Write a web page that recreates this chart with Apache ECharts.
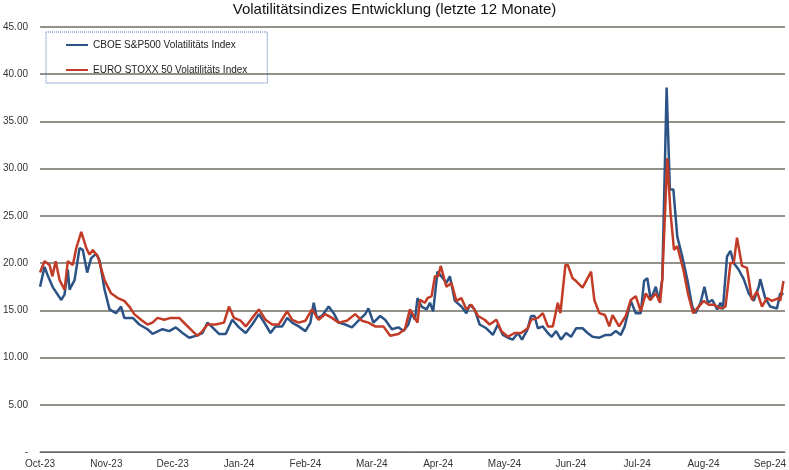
<!DOCTYPE html>
<html><head><meta charset="utf-8">
<script src="https://cdn.jsdelivr.net/npm/echarts@6/dist/echarts.min.js"></script>
<style>html,body{margin:0;padding:0;background:#fff}#c{width:789px;height:470px}</style>
</head><body><div id="c"></div>
<script>
const monthLabels = ["Oct-23","Nov-23","Dec-23","Jan-24","Feb-24","Mar-24","Apr-24","May-24","Jun-24","Jul-24","Aug-24","Sep-24"];
const vixDays = [0,2.1,3.7,6,9.8,11.3,12.8,13.6,15.9,18.2,19.7,21.7,23.5,25.8,27.4,29.7,32,35,37.3,38.8,42.7,45.7,49.5,51.8,56.4,59.5,62.5,65.6,68.7,71.7,74.8,77.1,79.4,82.4,85.5,88.5,91.6,94.7,97.7,100.8,103.8,106.1,108.4,111.5,113.8,116.1,119.1,122.2,124.5,126,127.5,129.8,132.9,135.2,137.5,140.5,143.6,146.6,149.7,151.2,153.5,156.6,158.9,162,165,167.3,169.6,171.1,172.6,173.8,175.7,178,179.5,181,183,184.8,187.1,188.7,191,194,196.3,197.9,200.1,202.4,205.5,208.5,210.8,213.1,215.4,217.7,220,221.9,224.3,226.1,227.7,229.2,231.5,233.8,235.6,237.6,239.9,242.2,244.5,246.8,249.8,252.1,254.4,257.5,260.5,262.8,265.1,267.4,269.2,272,274.3,276.6,278.1,279.6,281.2,283.5,285,286.5,288.5,290,291.6,293.4,295.7,298,300.3,301.8,304.1,305.9,307.5,309.5,311.8,313.3,314.4,316.3,317.9,319.4,321.7,324,326.3,328.6,330.9,331.6,333.9,336.2,339.3,340.8,342.3];
const vixVals = [17.5,19.6,18.6,17.4,16.1,16.7,19.3,17.2,18.2,21.6,21.4,19,20.5,21,20.3,17.2,15.1,14.7,15.4,14.2,14.2,13.5,13,12.5,13,12.8,13.2,12.6,12.1,12.3,12.6,13.7,13.2,12.5,12.5,14,13.2,12.6,13.5,14.6,13.5,12.6,13.3,13.3,14.2,13.7,13.3,12.8,13.7,15.8,14.2,14.4,15.4,14.7,13.7,13.5,13.2,13.9,14.6,15.2,13.7,14.4,14,13,13.2,12.8,13.5,14.7,14,16.3,15.4,15.1,15.8,14.9,19.1,18.6,17.9,18.6,16,15.4,14.7,15.6,15.1,13.5,13.1,12.4,13.5,12.4,12.1,11.9,12.6,11.9,12.9,14.4,14.4,13.1,13.3,12.6,12.2,12.8,11.9,12.6,12.2,13.1,13.1,12.6,12.2,12.1,12.4,12.4,12.8,12.4,13.3,16,14.7,14.7,18.1,18.4,16.1,17.5,16,18.3,38.6,27.8,27.8,22.8,20.7,18.3,15.4,14.7,15.8,17.5,15.8,16.1,15.1,15.8,15.1,20.7,21.3,20,19.3,18.3,16.8,16,17.5,18.3,16.3,15.4,15.2,16.8,16.7];
const vstoxxDays = [0,2.1,4.4,5.7,7.2,9,11.3,12.8,15.1,16.7,19,21.3,22.8,24.3,26.6,29.7,32.7,35.8,38.8,41.1,43.4,46.5,49.5,51.8,54.1,57.2,60.2,64.1,67.1,70.2,72.5,74.8,77.1,80.9,84.7,87,89.3,92.4,94.7,97.7,100.8,103.8,106.9,109.9,113.8,116.1,119.1,122.2,125.2,128.3,131.3,134.4,137.5,141.3,145.1,148.2,151.2,154.3,158.1,161.2,165,168,170.3,171.1,173.8,174.9,177.2,178.4,180.3,181.8,183.3,184.5,187.1,189.4,191.7,194,196.3,198.6,201.7,204.7,207,210.1,212.4,215.4,218.5,221.5,224.6,226.1,229.2,231.5,233.8,236.1,238.4,239.6,241.9,243,245.2,246.8,249.8,253.7,255.2,257.5,260.1,262.1,263.6,266.6,269.7,272,274.3,276.6,278.9,280.9,283.5,285.5,286.5,288.8,290.3,291.9,293.4,296.2,298.3,300.7,303.3,305.6,307.9,310.2,313.3,315.6,317.9,319.4,320.9,323.2,325.5,327.8,330.1,332.4,334.7,337,340,340.8,342.3];
const vstoxxVals = [19,20.2,19.8,18.6,20.2,18.2,17.2,20.2,19.8,21.6,23.3,21.6,20.9,21.4,20.7,18.2,16.8,16.3,16,15.4,14.6,14,13.5,13.7,14.2,14,14.2,14.2,13.5,12.8,12.3,12.8,13.5,13.5,13.7,15.4,14.2,13.9,13.3,14.2,15.1,14,13.5,13.5,14.9,14,13.7,13.9,15.1,14,14.6,14.2,13.7,13.9,14.6,13.9,13.7,13.3,13.3,12.3,12.5,13,15.1,15.1,13.7,16.1,15.8,16.3,16.5,18.6,18.6,19.7,17.5,17.9,16,16.3,15.1,15.6,14.4,14,13.5,14,12.8,12.2,12.6,12.6,13.1,14,14.2,14.7,13.3,13.3,15.8,14.7,19.8,19.8,18.4,18.1,17.4,19.1,16.1,14.7,14.5,13.3,14.5,13.3,14.4,16.1,16.5,14.9,16.8,16.1,16.8,15.8,18.3,31.1,25.3,21.4,21.8,19.3,16.8,14.7,15.4,16,15.6,15.6,15.2,15.4,20,20,22.7,19.7,19.5,16.1,17,15.4,16.3,16,16.3,16,18.1];
const yTicks = [0,5,10,15,20,25,30,35,40,45];

const zip = (a,b)=>a.map((d,i)=>[d,b[i]]);
const chart = echarts.init(document.getElementById('c'));
chart.setOption({
  animation:false,
  title:{text:'Volatilitätsindizes Entwicklung (letzte 12 Monate)',left:'center',top:-3,
    textStyle:{fontFamily:'Liberation Sans',fontWeight:'normal',fontSize:15,color:'#111'}},
  legend:{orient:'vertical',left:46,top:32,width:220,height:44,itemGap:15,padding:[8,20,8,20],
    borderColor:'#4a72b8',borderWidth:1,borderType:'dotted',
    itemWidth:22,itemHeight:2,icon:'rect',
    textStyle:{fontFamily:'Liberation Sans',fontSize:10,color:'#222'},
    data:['CBOE S&P500 Volatilitäts Index','EURO STOXX 50 Volatilitäts Index']},
  grid:{left:37,right:4,top:27,bottom:18},
  xAxis:{type:'value',min:0,max:343,interval:30.55,
    axisLine:{show:true,lineStyle:{color:'#666'}},axisTick:{show:false},splitLine:{show:false},
    axisLabel:{showMaxLabel:false,fontFamily:'Liberation Sans',fontSize:10,color:'#333',margin:7,
      formatter:v=>monthLabels[Math.round(v/30.55)]||''}},
  yAxis:{type:'value',min:0,max:45,interval:5,
    axisLine:{show:false},axisTick:{show:false},
    splitLine:{lineStyle:{color:'#6e6e64',width:1.5}},
    axisLabel:{fontFamily:'Liberation Sans',fontSize:10,color:'#333',margin:12,
      formatter:v=>v===0?'-':v.toFixed(2)}},
  series:[
    {name:'CBOE S&P500 Volatilitäts Index',type:'line',data:zip(vixDays,vixVals),showSymbol:false,
      lineStyle:{color:'#2c5386',width:2.5},itemStyle:{color:'#2c5386'}},
    {name:'EURO STOXX 50 Volatilitäts Index',type:'line',data:zip(vstoxxDays,vstoxxVals),showSymbol:false,
      lineStyle:{color:'#c23b26',width:2.5},itemStyle:{color:'#c23b26'}}
  ]
});
</script></body></html>
